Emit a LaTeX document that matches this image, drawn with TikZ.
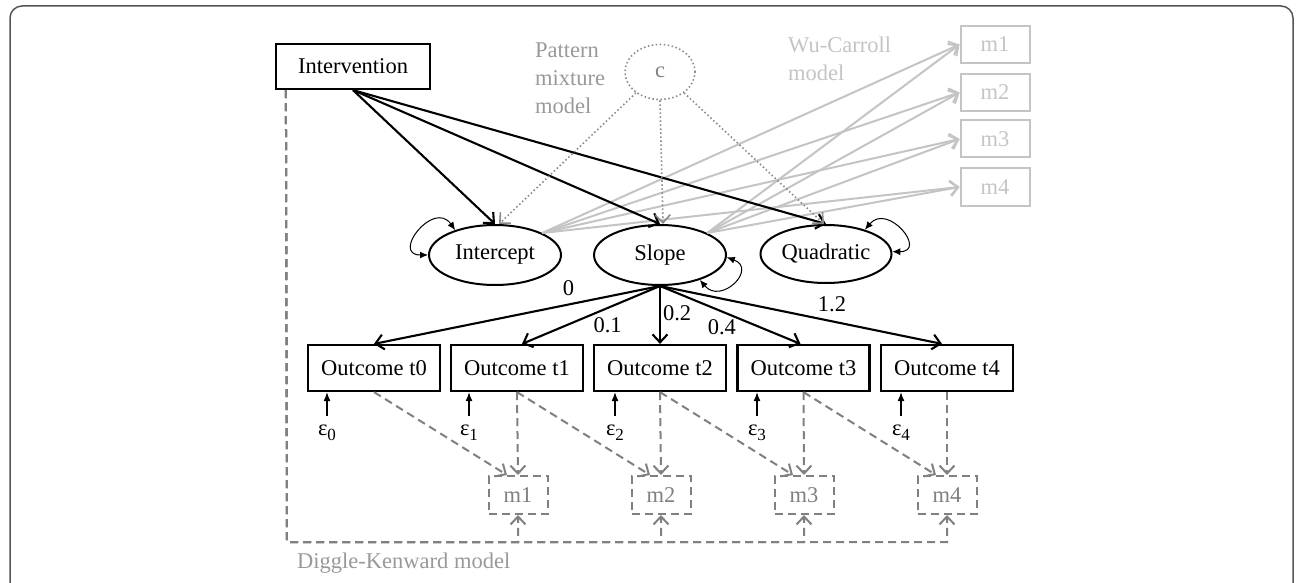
\documentclass[tikz,border=0pt]{standalone}
\usepackage{fontspec}
\setmainfont{Liberation Serif}
\usetikzlibrary{arrows.meta,shapes.geometric,calc}
\definecolor{dkg}{HTML}{808080}
\definecolor{dotg}{HTML}{8A8A8A}
\definecolor{ltg}{HTML}{C4C4C4}
\definecolor{txg}{HTML}{999999}
\definecolor{frm}{HTML}{555555}
\newcommand{\epsub}[1]{ε\raisebox{-5pt}{\fontsize{17}{17}\selectfont #1}}
\tikzset{
  box/.style={draw=black, line width=2.2pt, minimum width=132pt, minimum height=46pt, inner sep=0pt},
  lat/.style={draw=black, ellipse, line width=2pt, minimum width=132pt, minimum height=60pt, inner sep=0pt},
  cell/.style={draw=dotg, ellipse, line width=1.6pt, dash pattern=on 1.5pt off 2.5pt, minimum width=70pt, minimum height=55pt, inner sep=0pt, text=dkg},
  wbox/.style={draw=ltg, line width=2pt, minimum width=69pt, minimum height=37pt, inner sep=0pt, text=ltg},
  mbox/.style={draw=dkg, line width=2pt, dash pattern=on 8pt off 5pt, minimum width=59pt, minimum height=38pt, inner sep=0pt, text=dkg},
  barb/.style={-{Straight Barb[length=8pt,width=15pt]}},
  blk/.style={draw=black, line width=2.1pt, barb},
  dsh/.style={draw=dkg, line width=2pt, dash pattern=on 8pt off 5pt, barb},
  dot/.style={draw=dotg, line width=1.6pt, dash pattern=on 1.5pt off 2.5pt, barb},
  wc/.style={draw=ltg, line width=2pt, barb},
  earrow/.style={draw=black, line width=1.2pt, -{Latex[length=9pt,width=7pt]}},
  var/.style={draw=black, line width=1pt, {Latex[length=8pt,width=7pt]}-{Latex[length=8pt,width=7pt]}},
  lbl/.style={inner sep=1pt},
  eps/.style={inner sep=1pt},
  frame/.style={draw=frm, line width=1.5pt, rounded corners=12pt}
}
\begin{document}
\begin{tikzpicture}[x=1pt,y=1pt,font=\fontsize{22.5}{28}\selectfont]
\useasboundingbox (0,0) rectangle (1296,-583);
\draw[frame] (10,-620) rectangle (1293,-6);

% top
\node[box, minimum width=154pt, minimum height=45pt] (intv) at (353,-66.5) {Intervention};
\node[cell] (c) at (660,-72) {c};
\node[anchor=west, align=left, inner sep=0pt, text=txg] (pmm) at (535,-78) {Pattern\\mixture\\model};
\node[anchor=west, align=left, inner sep=0pt, text=ltg] (wcm) at (788,-59) {Wu-Carroll\\model};
\node[wbox] (w1) at (995,-44.5) {m1};
\node[wbox] (w2) at (995,-92.5) {m2};
\node[wbox] (w3) at (995,-139) {m3};
\node[wbox] (w4) at (995,-187) {m4};

% latent
\node[lat] (int) at (495,-255) {Intercept};
\node[lat] (slope) at (660,-255) {Slope};
\node[lat, minimum width=131pt, minimum height=58pt] (quad) at (826,-254) {Quadratic};

% outcomes
\node[box] (t0) at (374,-368) {Outcome t0};
\node[box] (t1) at (517,-368) {Outcome t1};
\node[box] (t2) at (660,-368) {Outcome t2};
\node[box] (t3) at (803.5,-368) {Outcome t3};
\node[box] (t4) at (947,-368) {Outcome t4};

% residuals
\node[eps] (e0) at (327,-433) {\epsub{0}};
\node[eps] (e1) at (469,-433) {\epsub{1}};
\node[eps] (e2) at (615,-433) {\epsub{2}};
\node[eps] (e3) at (757,-433) {\epsub{3}};
\node[eps] (e4) at (901,-433) {\epsub{4}};

% missingness (Diggle-Kenward)
\node[mbox] (m1) at (518,-495) {m1};
\node[mbox] (m2) at (661,-495) {m2};
\node[mbox] (m3) at (804,-495) {m3};
\node[mbox] (m4) at (947,-495) {m4};
\node[anchor=west, inner sep=0pt, text=txg] (dkm) at (297,-563) {Diggle-Kenward model};

% Wu-Carroll arrows
\foreach \i in {1,...,4} {
  \draw[wc] (int.25) -- (w\i.west);
  \draw[wc] (slope.25) -- (w\i.west);
}

% intervention arrows
\draw[blk] (intv.south) -- (int.north);
\draw[blk] (intv.south) -- (slope.north);
\draw[blk] (intv.south) -- (quad.north);

% class arrows
\draw[dot] (c.221) -- ([xshift=4pt]int.north);
\draw[dot] (c.south) -- ([xshift=3pt]slope.north);
\draw[dot] (c.319) -- ([xshift=-2pt]quad.north);

% variances
\draw[var] (int.148) to[out=125,in=180,looseness=2.6] (int.180);
\draw[var] (slope.358) to[out=-20,in=-50,looseness=2.4] (slope.328);
\draw[var] (quad.32) to[out=50,in=0,looseness=2.6] (quad.2);

% slope loadings
\draw[blk] (slope.south) -- node[lbl, pos=0.32, above=7pt] {0} (t0.north);
\draw[blk] (slope.south) -- node[lbl, pos=0.38, below=7pt] {0.1} ([xshift=5pt]t1.north);
\draw[blk] (slope.south) -- node[lbl, pos=0.47, right=1pt] {0.2} (t2.north);
\draw[blk] (slope.south) -- node[lbl, pos=0.44, below=6pt] {0.4} ([xshift=-3pt]t3.north);
\draw[blk] (slope.south) -- node[lbl, pos=0.61, above=7pt] {1.2} ([xshift=-5pt]t4.north);

% residual arrows
\foreach \i in {0,...,4} {
  \draw[earrow, shorten <=8pt] (e\i.north) -- (e\i.north |- t\i.south);
}

% outcome -> missingness
\draw[dsh] (t0.south) -- ([xshift=-11pt]m1.north);
\draw[dsh] (t1.south) -- (m1.north);
\draw[dsh] (t1.south) -- ([xshift=-11pt]m2.north);
\draw[dsh] (t2.south) -- (m2.north);
\draw[dsh] (t2.south) -- ([xshift=-11pt]m3.north);
\draw[dsh] (t3.south) -- (m3.north);
\draw[dsh] (t3.south) -- ([xshift=-11pt]m4.north);
\draw[dsh] (t4.south) -- (m4.north);

% intervention -> missingness
\coordinate (dks) at ([xshift=11pt]intv.south west);
\coordinate (dkb) at (287,-542);
\foreach \i in {1,...,4} {
  \draw[dsh] (dks) -- (dkb) -| (m\i.south);
}
\end{tikzpicture}
\end{document}
